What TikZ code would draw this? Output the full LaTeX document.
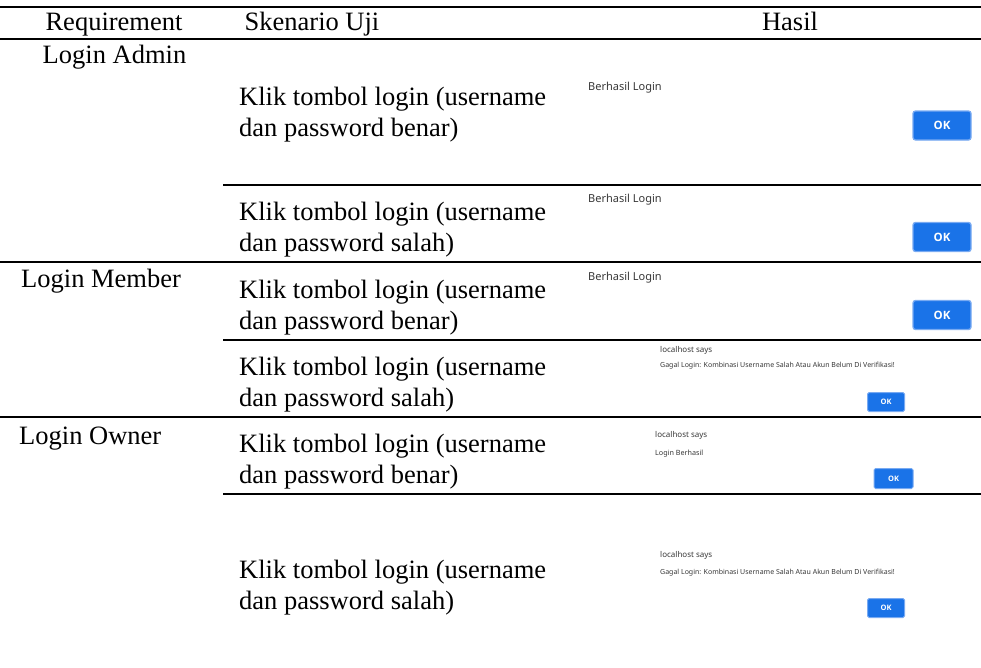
\documentclass[tikz,border=0pt]{standalone}
\usepackage{fontspec}
\setmainfont{Liberation Serif}
\newfontfamily\uifont{Noto Sans}
\newfontfamily\btnfont{Open Sans}
\usetikzlibrary{positioning, calc}
\definecolor{okblue}{RGB}{26, 115, 232}
\definecolor{okedge}{RGB}{120, 170, 242}
\definecolor{uigray}{RGB}{55, 55, 55}

\tikzset{
  cell/.style={anchor=base west, inner sep=0pt, font=\fontsize{26.5}{31}\selectfont},
  head/.style={anchor=base, inner sep=0pt, font=\fontsize{26.5}{31}\selectfont},
  rule/.style={line width=1.8pt},
  msg/.style={anchor=base west, inner sep=0pt, text=uigray, font=\uifont\fontsize{11}{11}\selectfont},
  tinymsg/.style={msg, font=\uifont\fontsize{#1}{#1}\selectfont},
  okbtn/.style={fill=okblue, draw=okedge, line width=1.3pt, rounded corners=2.5pt, text=white, inner sep=0pt,
    minimum width=58pt, minimum height=29pt, font=\btnfont\bfseries\fontsize{11.5}{11.5}\selectfont},
  oksmall/.style={okbtn, line width=1pt, rounded corners=1.5pt, minimum width=37pt, minimum height=19pt,
    font=\btnfont\bfseries\fontsize{7.5}{7.5}\selectfont}
}

\begin{document}
\begin{tikzpicture}[x=1pt, y=-1pt]
    \useasboundingbox (0,0) rectangle (981,667);
    % rules
    \draw[rule] (0,6.7) -- (981,6.7);
    \draw[rule] (0,39.3) -- (981,39.3);
    \foreach \yl in {262, 417} {
      \draw[rule] (0,\yl) -- (981,\yl);
    }
    \foreach \yl in {185, 340, 494} {
      \draw[rule] (223,\yl) -- (981,\yl);
    }
    % header
    \node[head] (hreq) at (114,30.7) {Requirement};
    \node[head] (hsken) at (312,30.7) {Skenario Uji};
    \node[head] (hhasil) at (790,30.7) {Hasil};
    % requirement column
    \node[head] (radmin) at (114.5,63) {Login Admin};
    \node[cell] (rmember) at (21,287) {Login Member};
    \node[cell] (rowner) at (19,444) {Login Owner};
    % skenario column
    \foreach \yb/\how [count=\i] in {105.7/benar, 220/salah, 298/benar, 375/salah, 452/benar, 578/salah} {
      \node[cell] (klik\i) at (239,\yb) {Klik tombol login (username};
      \node[cell, below=31pt of klik\i.base west, anchor=base west] (dan\i) {dan password \how)};
    }
    % hasil column
    \node[msg] (berhasil1) at (588,90) {Berhasil Login};
    \node[okbtn] (ok1) at (942,125.5) {OK};
    \node[msg] (berhasil2) at (588,202) {Berhasil Login};
    \node[okbtn] (ok2) at (942,237) {OK};
    \node[msg] (berhasil3) at (588,280) {Berhasil Login};
    \node[okbtn] (ok3) at (942,315) {OK};
    \node[tinymsg=8] (host4) at (660,352.5) {localhost says};
    \node[tinymsg=7] (gagal4) at (660,367.5) {Gagal Login: Kombinasi Username Salah Atau Akun Belum Di Verifikasi!};
    \node[oksmall] (ok4) at (886,402) {OK};
    \node[tinymsg=8] (host5) at (655,437) {localhost says};
    \node[tinymsg=7.2] (login5) at (655,455) {Login Berhasil};
    \node[oksmall, minimum width=39pt, minimum height=20pt] (ok5) at (893.5,478.5) {OK};
    \node[tinymsg=8] (host6) at (660,557) {localhost says};
    \node[tinymsg=7] (gagal6) at (660,574.5) {Gagal Login: Kombinasi Username Salah Atau Akun Belum Di Verifikasi!};
    \node[oksmall] (ok6) at (886,608) {OK};
\end{tikzpicture}
\end{document}
